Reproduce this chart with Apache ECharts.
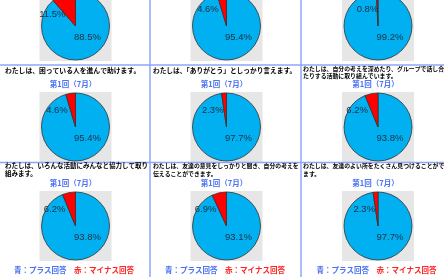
<!DOCTYPE html>
<html><head><meta charset="utf-8">
<script src="https://cdn.jsdelivr.net/npm/echarts@6/dist/echarts.min.js"></script>
<style>html,body{margin:0;padding:0;background:#fff;}#c{width:444px;height:277px;}</style>
</head><body><div id="c"></div>
<script>
// ---- data ----
const plusValues  = [88.5, 95.4, 99.2, 95.4, 97.7, 93.8, 93.8, 93.1, 97.7];
const minusValues = [11.5, 4.6, 0.8, 4.6, 2.3, 6.2, 6.2, 6.9, 2.3];
const sliceNames = ['プラス回答', 'マイナス回答'];
const questions = [
  '', '', '',
  'わたしは、困っている人を進んで助けます。',
  'わたしは、「ありがとう」としっかり言えます。',
  'わたしは、自分の考えを深めたり、グループで話し合っ\nたりする活動に取り組んでいます。',
  'わたしは、いろんな活動にみんなと協力して取り\n組みます。',
  'わたしは、友達の意見をしっかりと聞き、自分の考えを\n伝えることができます。',
  'わたしは、友達のよい所をたくさん見つけることができ\nます。'
];
const roundLabel = '第1回（7月）';
const legendPlus = '青：プラス回答';
const legendMinus = '赤：マイナス回答';

// ---- layout ----
const colCx = [75.5, 226.5, 378];
const rowCy = [26, 127, 226];
const colTextX = [5, 153, 303];
const qFont = [0, 0, 0, 6.8, 6.7, 5.9, 6.5, 5.85, 5.9];
const qLine = [0, 0, 0, 8, 8, 7, 8, 8, 8];
const qTop  = [0, 0, 0, 66, 66, 65.5, 162, 162, 162];
const R = 34;
const BLUE = '#00b0f0', RED = '#ff0000';
const CJK = '"Noto Sans CJK JP", "Noto Sans CJK SC", sans-serif';

const series = [], titles = [], graphics = [];

// table lines
const lineColor = '#8fa6f6';
[65, 162.5].forEach(y => graphics.push({type:'line', shape:{x1:0,y1:y,x2:444,y2:y}, style:{stroke:lineColor, lineWidth:1.5}, z:1}));
[150, 301].forEach(x => graphics.push({type:'line', shape:{x1:x,y1:0,x2:x,y2:277}, style:{stroke:lineColor, lineWidth:1.5}, z:1}));

for (let i = 0; i < 9; i++) {
  const r = Math.floor(i / 3), c = i % 3;
  const cx = colCx[c], cy = rowCy[r];
  graphics.push({type:'rect', shape:{x:cx-36, y:cy-35, width:72, height:70}, style:{fill:'#e6e6e6'}, z:0});
  const minus = minusValues[i];
  const theta = minus / 100 * 2 * Math.PI;
  series.push({
    type: 'pie',
    center: [cx, cy],
    radius: R,
    startAngle: 90,
    clockwise: true,
    silent: true,
    animation: false,
    avoidLabelOverlap: false,
    z: 3,
    itemStyle: {borderColor: '#333', borderWidth: 0.8},
    label: {
      show: true, position: 'inside',
      formatter: p => p.value.toFixed(1) + '%',
      color: '#1c2f44', fontSize: 9.5, fontFamily: '"Liberation Sans", Arial, sans-serif'
    },
    labelLine: {show: false},
    labelLayout: function (p) {
      if (p.dataIndex === 0) {
        return {x: cx + 12, y: cy + 11.5, align: 'center', verticalAlign: 'middle'};
      }
      const wedgeLeft = cx - R * Math.sin(Math.min(theta, Math.PI / 2));
      const right = Math.max(wedgeLeft + 2, cx - 10);
      const deg = theta * 180 / Math.PI;
      const y = cy - 17 + Math.max(0, deg - 25) * 0.35;
      return {x: right, y: y, align: 'right', verticalAlign: 'middle'};
    },
    data: [
      {value: plusValues[i], name: sliceNames[0], itemStyle: {color: BLUE}},
      {value: minus, name: sliceNames[1], itemStyle: {color: RED}}
    ]
  });
  if (r > 0) {
    titles.push({
      text: questions[i], left: colTextX[c], top: qTop[i], padding: 0,
      textStyle: {fontSize: qFont[i], fontWeight: 'bold', color: '#000', fontFamily: CJK, lineHeight: qLine[i]}
    });
    titles.push({
      text: roundLabel, left: cx - 2.5, top: cy - 47.5, textAlign: 'center', padding: 0,
      textStyle: {fontSize: 7.5, fontWeight: 'bold', color: '#4a72f2', fontFamily: CJK, lineHeight: 9}
    });
  }
  if (r === 2) {
    titles.push({
      text: '{b|' + legendPlus + '}　{r|' + legendMinus + '}', left: cx - 1.5, top: 265.5, textAlign: 'center', padding: 0,
      textStyle: {fontSize: 7.5, fontFamily: CJK, lineHeight: 9,
        rich: {
          b: {fontSize: 7.5, fontWeight: 'bold', color: '#4a72f2', fontFamily: CJK},
          r: {fontSize: 7.5, fontWeight: 'bold', color: '#ff2222', fontFamily: CJK}
        }}
    });
  }
}

const chart = echarts.init(document.getElementById('c'), null, {renderer: 'canvas'});
chart.setOption({animation: false, backgroundColor: '#fff', title: titles, graphic: graphics, series: series});
</script></body></html>
